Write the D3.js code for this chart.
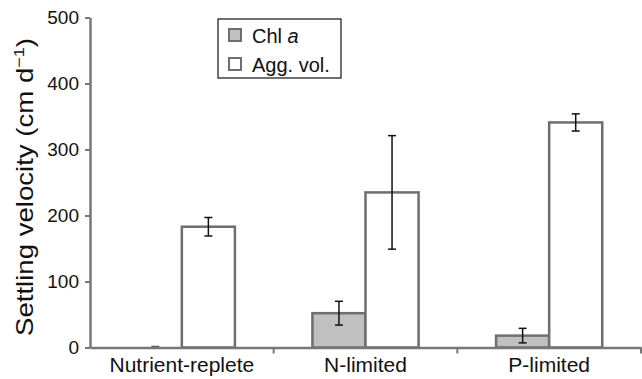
<!DOCTYPE html>
<html>
<head>
<meta charset="utf-8">
<script src="https://cdn.jsdelivr.net/npm/d3@7"></script>
<style>
  body { margin: 0; background: #fff; }
  svg { display: block; font-family: "Liberation Sans", Arial, sans-serif; }
</style>
</head>
<body>
<div class="chart-container"></div>
<script>
// data
const categories = ['Nutrient-replete', 'N-limited', 'P-limited'];
const seriesNames = ['Chl a', 'Agg. vol.'];
const chlValues = [0, 52, 18];
const chlErrors = [0, 18, 11];
const aggValues = [183, 235, 341];
const aggErrors = [14, 86, 13];
const yTicks = [0, 100, 200, 300, 400, 500];

const w = 642, h = 379;
const margin = {top: 17.5, right: 1, bottom: 31.5, left: 90};
const width = w - margin.left - margin.right;
const height = h - margin.top - margin.bottom;

const axisColor = '#777';
const barStroke = '#6e6e6e';
const fills = ['#c0c0c0', '#ffffff'];
const fontFam = '"Liberation Sans", Arial, sans-serif';

const rows = categories.map((c, i) => ({
  cat: c,
  vals: [
    {key: seriesNames[0], v: chlValues[i], e: chlErrors[i]},
    {key: seriesNames[1], v: aggValues[i], e: aggErrors[i]}
  ]
}));

const svg = d3.select('.chart-container').append('svg')
  .attr('width', w).attr('height', h);

const chart = svg.append('g')
  .attr('transform', 'translate(' + margin.left + ',' + margin.top + ')');

const x0 = d3.scaleBand().domain(categories).range([0, width]).padding(0);
const pad = x0.bandwidth() * 0.211;
const x1 = d3.scaleBand().domain(seriesNames).range([pad, x0.bandwidth() - pad]).padding(0);
const y = d3.scaleLinear().domain([0, 500]).range([height, 0]);

// bars
const groups = chart.selectAll('.grp').data(rows).enter().append('g')
  .attr('class', 'grp')
  .attr('transform', d => 'translate(' + x0(d.cat) + ',0)');

groups.selectAll('rect').data(d => d.vals).enter().append('rect')
  .attr('x', d => x1(d.key))
  .attr('y', d => y(d.v))
  .attr('width', x1.bandwidth())
  .attr('height', d => height - y(d.v))
  .attr('fill', (d, i) => fills[i])
  .attr('stroke', barStroke)
  .attr('stroke-width', d => d.v > 0 ? 2.5 : 0);

// error bars
const cap = 4;
const eb = groups.selectAll('.err').data(d => d.vals).enter().append('g')
  .attr('class', 'err')
  .attr('stroke', d => d.e > 0 ? '#111' : '#555')
  .attr('stroke-width', 1.5);
eb.filter(d => d.e > 0).append('line')
  .attr('x1', d => x1(d.key) + x1.bandwidth() / 2)
  .attr('x2', d => x1(d.key) + x1.bandwidth() / 2)
  .attr('y1', d => y(d.v + d.e))
  .attr('y2', d => y(d.v - d.e));
eb.append('line')
  .attr('x1', d => x1(d.key) + x1.bandwidth() / 2 - cap)
  .attr('x2', d => x1(d.key) + x1.bandwidth() / 2 + cap)
  .attr('y1', d => y(d.v + d.e) - (d.e > 0 ? 0 : 1))
  .attr('y2', d => y(d.v + d.e) - (d.e > 0 ? 0 : 1));
eb.filter(d => d.e > 0).append('line')
  .attr('x1', d => x1(d.key) + x1.bandwidth() / 2 - cap)
  .attr('x2', d => x1(d.key) + x1.bandwidth() / 2 + cap)
  .attr('y1', d => y(d.v - d.e))
  .attr('y2', d => y(d.v - d.e));

// axes
const yAxis = chart.append('g')
  .call(d3.axisLeft(y).tickValues(yTicks).tickSize(5).tickPadding(6).tickSizeOuter(0));
const xAxis = chart.append('g')
  .attr('transform', 'translate(0,' + height + ')')
  .call(d3.axisBottom(x0).tickSize(0).tickPadding(10).tickSizeOuter(0));

// x ticks at band boundaries
xAxis.selectAll('.bound').data(categories.slice(1).concat(['end'])).enter().append('line')
  .attr('class', 'bound')
  .attr('x1', (d, i) => x0.step() * (i + 1))
  .attr('x2', (d, i) => x0.step() * (i + 1))
  .attr('y1', 0).attr('y2', 6)
  .attr('stroke', axisColor).attr('stroke-width', 2);

[yAxis, xAxis].forEach(a => {
  a.select('.domain').attr('stroke', axisColor).attr('stroke-width', 2.5);
  a.selectAll('.tick line').attr('stroke', axisColor).attr('stroke-width', 2);
  a.selectAll('text').attr('fill', '#111').style('font-family', fontFam);
});
yAxis.selectAll('text').style('font-size', '19px');
xAxis.selectAll('text').style('font-size', '21px');

// y title, glyphs a bit wider than Arial in the source
svg.append('text')
  .attr('transform', 'translate(33,' + 187 + ') rotate(-90) scale(1.2,1)')
  .attr('text-anchor', 'middle')
  .attr('fill', '#111')
  .style('font-size', '23px')
  .text('Settling velocity (cm d')
  .append('tspan').attr('dy', -9).style('font-size', '15px').text('\u22121')
  .clone(true).attr('dy', 9).style('font-size', '23px').text(')');

// legend
const legend = svg.append('g').attr('transform', 'translate(218,19)');
legend.append('rect')
  .attr('width', 123).attr('height', 59)
  .attr('fill', '#fff').attr('stroke', '#111').attr('stroke-width', 1.2);
const items = legend.selectAll('.item').data(seriesNames).enter().append('g')
  .attr('class', 'item')
  .attr('transform', (d, i) => 'translate(11,' + (10 + i * 29) + ')');
items.append('rect')
  .attr('width', 12).attr('height', 12)
  .attr('fill', (d, i) => fills[i])
  .attr('stroke', barStroke).attr('stroke-width', 2);
const lt = items.append('text')
  .attr('x', 23).attr('y', 13.5)
  .attr('fill', '#111')
  .style('font-size', '20px');
lt.filter((d, i) => i === 0).text('Chl ')
  .append('tspan').style('font-style', 'italic').text('a');
lt.filter((d, i) => i === 1).text(d => d);
</script>
</body>
</html>
